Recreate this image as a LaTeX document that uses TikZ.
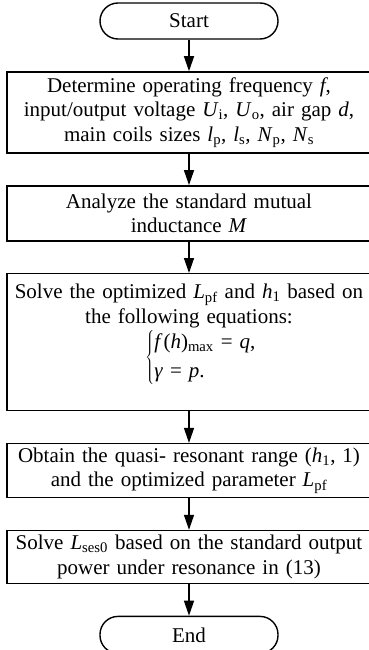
\documentclass[tikz,border=0pt]{standalone}
\usepackage{fontspec}
\setmainfont{Liberation Serif}
\usepackage{tikz}
\usetikzlibrary{arrows.meta,positioning}
\newcommand{\lsub}[1]{\textsubscript{#1}}

\begin{document}
\begin{tikzpicture}[
    x=1pt, y=1pt,
    node distance=31.5pt,
    font=\fontsize{21}{24.5}\selectfont,
    term/.style={draw, rounded corners=18pt, line width=1.4pt,
                 minimum width=178pt, minimum height=36pt, inner sep=0pt},
    box/.style={draw, line width=1.4pt, text width=354pt, align=center,
                minimum width=364pt, inner xsep=5pt, inner ysep=0pt},
    arr/.style={-{Triangle[length=15pt, width=10pt]}, line width=1.4pt},
  ]
  \useasboundingbox (0,0) rectangle (368,-650);
  \node[term] (start) at (189,-21) {Start};
  \node[box, minimum height=81pt, below=of start] (setup)
    {Determine operating frequency \textit{f},\\
     input/output voltage \textit{U}\lsub{i}, \textit{U}\lsub{o}, air gap \textit{d},\\
     main coils sizes \textit{l}\lsub{p}, \textit{l}\lsub{s}, \textit{N}\lsub{p}, \textit{N}\lsub{s}};
  \node[box, minimum height=55pt, below=of setup] (mutual)
    {Analyze the standard mutual\\ inductance \textit{M}};
  \node[box, minimum height=137pt, below=of mutual] (solve)
    {Solve the optimized \textit{L}\lsub{pf} and \textit{h}\lsub{1} based on\\
     the following equations:\\[2pt]
     \hspace*{24pt}$\left\{\begin{array}{@{}l@{}}
       \mbox{\textit{f}\kern1pt(\textit{h})\lsub{max} = \textit{q},}\\[5pt]
       \mbox{\textit{γ} = \textit{p}.}
     \end{array}\right.$\rule[-37pt]{0pt}{0pt}};
  \node[box, minimum height=54pt, below=of solve] (range)
    {Obtain the quasi- resonant range (\textit{h}\lsub{1}, 1)\\
     and the optimized parameter \textit{L}\lsub{pf}};
  \node[box, minimum height=53pt, below=of range] (power)
    {Solve \textit{L}\lsub{ses0} based on the standard output\\
     power under resonance in (13)};
  \node[term, minimum height=37pt, below=of power] (stop) {End};

  \draw[arr] (start)  -- (setup);
  \draw[arr] (setup)  -- (mutual);
  \draw[arr] (mutual) -- (solve);
  \draw[arr] (solve)  -- (range);
  \draw[arr] (range)  -- (power);
  \draw[arr] (power)  -- (stop);
\end{tikzpicture}
\end{document}
